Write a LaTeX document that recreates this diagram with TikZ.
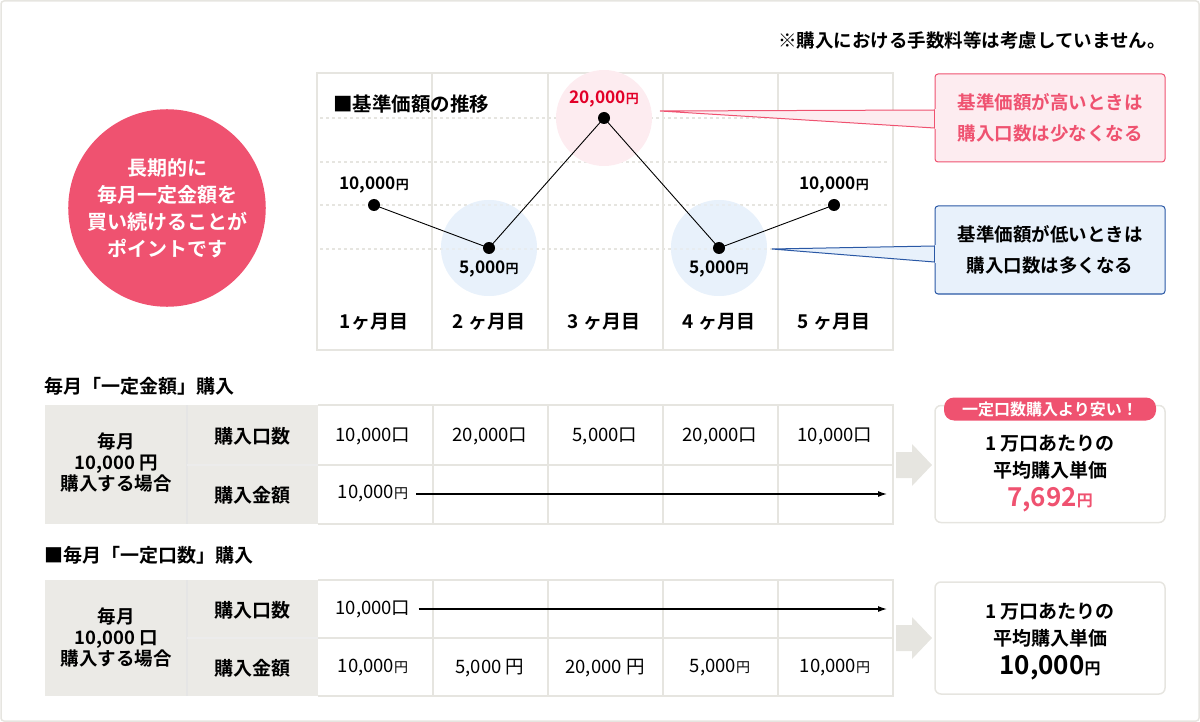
\documentclass[tikz,border=0pt]{standalone}
\usepackage{fontspec}
\setmainfont{Noto Sans CJK JP}[BoldFont={* Bold}]
\usetikzlibrary{shapes.geometric,arrows.meta}
\definecolor{pk}{RGB}{239,82,112}
\definecolor{pkl}{RGB}{253,236,240}
\definecolor{bl}{RGB}{42,88,165}
\definecolor{bll}{RGB}{232,241,251}
\definecolor{gr}{RGB}{230,229,224}
\definecolor{gf}{RGB}{235,234,230}
\definecolor{red1}{RGB}{226,0,40}
\begin{document}
\begin{tikzpicture}[x=1pt,y=-1pt,
 t/.style={font=\bfseries\fontsize{19}{20}\selectfont,inner sep=0pt},
 n/.style={font=\fontsize{18.5}{20}\selectfont,inner sep=0pt},
 lb/.style={font=\bfseries\fontsize{17.3}{18}\selectfont,inner sep=0pt},
 dot/.style={circle,fill=black,inner sep=0pt,minimum size=12pt},
 cell/.style={draw=gr,line width=1.5pt},
 harr/.style={-{Latex[length=9pt,width=6pt]},line width=1.2pt}]
\newcommand\yen[1][13]{{\fontsize{#1}{#1}\selectfont 円}}
\useasboundingbox (0,0) rectangle (1200,722);
\draw[gr,line width=1.5pt,rounded corners=3pt] (1,1) rectangle (1199,721);
\node[t,font=\bfseries\fontsize{18.5}{18}\selectfont,anchor=east] (note) at (1166,40) {※購入における手数料等は考慮していません。};
% pink circle
\node[circle,fill=pk,minimum size=194pt,text=white,align=center,font=\bfseries\fontsize{20}{27}\selectfont] (pt) at (167,208) {長期的に\\毎月一定金額を\\買い続けることが\\ポイントです};
% chart
\fill[bll] (489,248) ellipse (48 and 48);
\fill[bll] (719,248) ellipse (48 and 48);
\draw[gr,line width=2pt] (317,73) rectangle (893,350);
\foreach \x in {432,548,663,778} \draw[gr,line width=1.5pt] (\x,73) -- (\x,350);
\foreach \y in {118,162,205,249} \draw[gr,line width=1.2pt,dash pattern=on 3pt off 3pt] (320,\y) -- (890,\y);
\fill[pkl] (604,118) ellipse (48 and 48);
\fill[bll,opacity=0.6] (489,248) ellipse (48 and 48);
\fill[bll,opacity=0.6] (719,248) ellipse (48 and 48);
\node[t,font=\bfseries\fontsize{19.5}{20}\selectfont,anchor=west] (ttl) at (333,104) {■基準価額の推移};
\node[dot] (p1) at (374,205) {};
\node[dot] (p2) at (489,248) {};
\node[dot] (p3) at (604,118) {};
\node[dot] (p4) at (719,248) {};
\node[dot] (p5) at (834,205) {};
\draw[line width=0.9pt] (p1.center)--(p2.center)--(p3.center)--(p4.center)--(p5.center);
\node[lb] (l1) at (374,185) {10,000\yen};
\node[lb] (l2) at (489,269) {5,000\yen};
\node[lb,text=red1] (l3) at (604,99) {20,000\yen};
\node[lb] (l4) at (719,269) {5,000\yen};
\node[lb] (l5) at (834,185) {10,000\yen};
\node[t] (m1) at (374,322) {1ヶ月目};
\node[t] (m2) at (489,322) {2 ヶ月目};
\node[t] (m3) at (604,322) {3 ヶ月目};
\node[t] (m4) at (719,322) {4 ヶ月目};
\node[t] (m5) at (834,322) {5 ヶ月目};
% callouts
\node[draw=pk,fill=pkl,line width=1pt,rounded corners=3pt,minimum width=230pt,minimum height=88pt,align=center,text=pk,font=\bfseries\fontsize{18.5}{31}\selectfont] (c1) at (1050,118) {基準価額が高いときは\\購入口数は少なくなる};
\coordinate (c1a) at (660,111);
\filldraw[draw=pk,fill=pkl,line width=1pt] (c1a) -- (c1.west |- 0,110) -- (c1.west |- 0,128) -- cycle;
\fill[pkl] (934.5,109) rectangle (936,129);
\node[draw=bl,fill=bll,line width=1pt,rounded corners=3pt,minimum width=230pt,minimum height=88pt,align=center,font=\bfseries\fontsize{18.5}{31}\selectfont] (c2) at (1050,250) {基準価額が低いときは\\購入口数は多くなる};
\coordinate (c2a) at (772,249);
\filldraw[draw=bl,fill=bll,line width=1pt] (c2a) -- (c2.west |- 0,246) -- (c2.west |- 0,262) -- cycle;
\fill[bll] (934.5,245) rectangle (936,263);
% table 1
\node[t,anchor=west] (h1) at (44,386) {毎月「一定金額」購入};
\fill[gf] (45,405) rectangle (318,524);
\draw[white!80!gray,line width=1.5pt] (187,405)--(187,524);
\draw[white!85!gray,line width=1.5pt] (187,465)--(318,465);
\foreach \x in {433,548,663,778} \draw[cell] (\x,405)--(\x,524);
\draw[cell] (318,405)--(893,405)--(893,524)--(318,524);
\draw[cell] (318,465)--(893,465);
\node[t,align=center,font=\bfseries\fontsize{18.5}{21}\selectfont] (g1) at (116,463) {毎月\\10,000 円\\購入する場合};
\node[t] (r1a) at (252,436) {購入口数};
\node[t] (r1b) at (252,495) {購入金額};
\foreach \x/\v [count=\i] in {373/{10,000口},490/{20,000口},605/{5,000口},720/{20,000口},835/{10,000口}}
  \node[n] (a\i) at (\x,436) {\v};
\node[n] (b1) at (373,494) {10,000\yen[14]};
\coordinate (b1e) at (887,494);
\draw[harr] ([xshift=8pt]b1.east) -- (b1e);
% table 2
\node[t,anchor=west] (h2) at (44,555) {■毎月「一定口数」購入};
\fill[gf] (45,580) rectangle (318,696);
\draw[white!80!gray,line width=1.5pt] (187,580)--(187,696);
\draw[white!85!gray,line width=1.5pt] (187,638)--(318,638);
\foreach \x in {433,548,663,778} \draw[cell] (\x,580)--(\x,696);
\draw[cell] (318,580)--(893,580)--(893,696)--(318,696);
\draw[cell] (318,638)--(893,638);
\node[t,align=center,font=\bfseries\fontsize{18.5}{21}\selectfont] (g2) at (116,638) {毎月\\10,000 口\\購入する場合};
\node[t] (r2a) at (252,610) {購入口数};
\node[t] (r2b) at (252,668) {購入金額};
\node[n] (d1) at (373,609) {10,000口};
\coordinate (d1e) at (887,609);
\draw[harr] ([xshift=8pt]d1.east) -- (d1e);
\node[n] (e1) at (373,668) {10,000\yen[14]};
\node[n] (e2) at (490,668) {5,000 円};
\node[n] (e3) at (605,668) {20,000 円};
\node[n] (e4) at (720,668) {5,000\yen[14]};
\node[n] (e5) at (835,668) {10,000\yen[14]};
% chevrons
\fill[gr] (896,452)--(912,452)--(912,444)--(932,465)--(912,486)--(912,478)--(896,478)--cycle;
\fill[gr] (896,625)--(912,625)--(912,617)--(932,638)--(912,659)--(912,651)--(896,651)--cycle;
% results
\node[draw=gr,line width=1.5pt,rounded corners=6pt,minimum width=230pt,minimum height=117pt] (res1) at (1050,464) {};
\node[fill=pk,rounded corners=10pt,minimum width=212pt,minimum height=23pt,text=white,font=\bfseries\fontsize{16}{17}\selectfont,inner sep=0pt] (bad) at (1050,409) {一定口数購入より安い！};
\node[t] (q1) at (1050,444) {1 万口あたりの};
\node[t] (q2) at (1050,470) {平均購入単価};
\node[t,text=pk,font=\bfseries\fontsize{26}{26}\selectfont] (q3) at (1050,500) {7,692\yen[16]};
\node[draw=gr,line width=1.5pt,rounded corners=6pt,minimum width=230pt,minimum height=112pt] (res2) at (1050,638) {};
\node[t] (s1) at (1050,612) {1 万口あたりの};
\node[t] (s2) at (1050,638) {平均購入単価};
\node[t,font=\bfseries\fontsize{26}{26}\selectfont] (s3) at (1050,668) {10,000\yen[16]};
\end{tikzpicture}
\end{document}
